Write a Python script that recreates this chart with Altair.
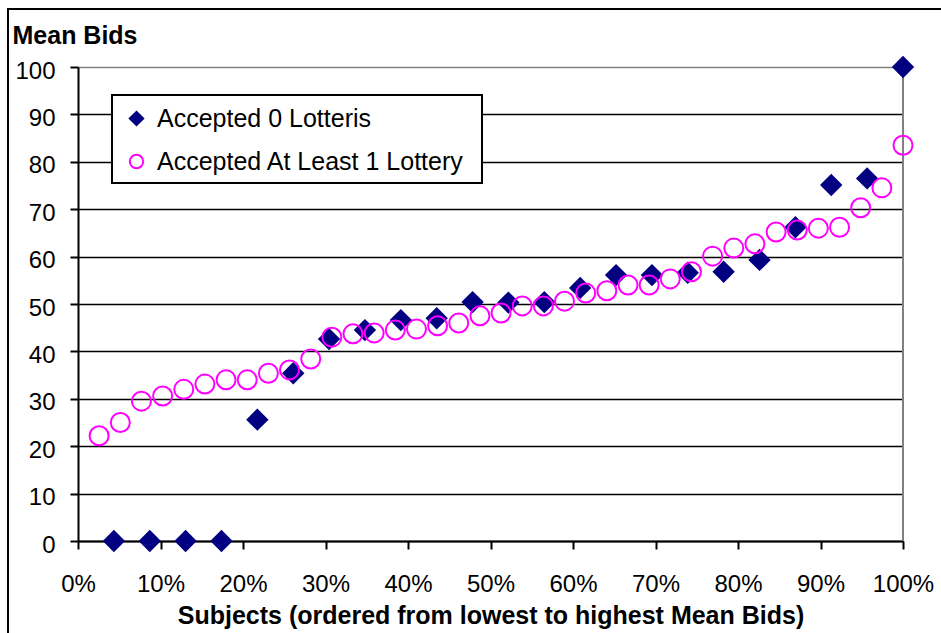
import altair as alt
import pandas as pd

SERIES = ["Accepted 0 Lotteris", "Accepted At Least 1 Lottery"]

# Subjects ranked (percent position) and mean bids
zero_x = [4.35, 8.70, 13.04, 17.39, 21.74, 26.09, 30.43, 34.78, 39.13, 43.48, 47.83, 52.17,
          56.52, 60.87, 65.22, 69.57, 73.91, 78.26, 82.61, 86.96, 91.30, 95.65, 100.0]
zero_y = [0, 0, 0, 0, 25.6, 35.4, 42.6, 44.5, 46.6, 47.0, 50.4, 50.3,
          50.4, 53.4, 56.1, 56.1, 56.6, 56.8, 59.3, 66.2, 75.1, 76.5, 100.0]

one_x = [2.56, 5.13, 7.69, 10.26, 12.82, 15.38, 17.95, 20.51, 23.08, 25.64, 28.21, 30.77, 33.33,
         35.90, 38.46, 41.03, 43.59, 46.15, 48.72, 51.28, 53.85, 56.41, 58.97, 61.54, 64.10, 66.67,
         69.23, 71.79, 74.36, 76.92, 79.49, 82.05, 84.62, 87.18, 89.74, 92.31, 94.87, 97.44, 100.0]
one_y = [22.2, 25.0, 29.5, 30.6, 32.0, 33.1, 34.0, 34.0, 35.4, 36.1, 38.4, 43.0, 43.7,
         43.9, 44.5, 44.7, 45.4, 46.0, 47.5, 48.1, 49.6, 49.6, 50.6, 52.3, 52.8, 54.0,
         54.0, 55.3, 56.8, 60.1, 61.8, 62.7, 65.2, 65.6, 66.0, 66.2, 70.3, 74.5, 83.5]

x_ticks = [0, 10, 20, 30, 40, 50, 60, 70, 80, 90, 100]
y_ticks = [0, 10, 20, 30, 40, 50, 60, 70, 80, 90, 100]

df = pd.DataFrame({
    "pct": zero_x + one_x,
    "bid": zero_y + one_y,
    "series": [SERIES[0]] * len(zero_x) + [SERIES[1]] * len(one_x),
})
one = pd.DataFrame({"k": [0]})

W, H = 825, 474
FONT = "Liberation Sans"

x_enc = alt.X(
    "pct:Q",
    scale=alt.Scale(domain=[0, 100], nice=False, zero=False),
    axis=alt.Axis(
        values=x_ticks, labelExpr="datum.value + '%'",
        title="Subjects (ordered from lowest to highest Mean Bids)",
        grid=False, tickSize=8, tickWidth=2, tickColor="black",
        domainColor="black", domainWidth=2,
        labelFontSize=24, labelColor="black", labelBaseline="alphabetic", labelPadding=42,
        labelFont=FONT, labelFlush=False, labelOverlap=False,
        titleFont=FONT, titleFontSize=25, titleFontWeight="bold", titleColor="black",
        titleBaseline="alphabetic", titleY=82,
    ),
)
y_enc = alt.Y(
    "bid:Q",
    scale=alt.Scale(domain=[0, 100], nice=False),
    axis=alt.Axis(
        values=y_ticks, title="Mean Bids",
        titleAngle=0, titleAlign="left", titleBaseline="alphabetic", titleX=-66, titleY=-24,
        titleFont=FONT, titleFontSize=25, titleFontWeight="bold", titleColor="black",
        labelFont=FONT, labelFontSize=24, labelColor="black", labelPadding=15,
        labelBaseline="alphabetic", labelOffset=11, labelFlush=False, labelOverlap=False,
        tickSize=8, tickWidth=2, tickColor="black",
        domainColor="black", domainWidth=2,
        grid=True, gridWidth=1.5,
        gridColor={"condition": {"test": "datum.value === 100", "value": "#808080"}, "value": "black"},
    ),
)

leg = alt.Legend(
    title=None, orient="none", legendX=46, legendY=39,
    labelFont=FONT, labelFontSize=25, labelColor="black", labelOffset=8, labelLimit=500,
    symbolSize=180, symbolStrokeWidth=2, rowPadding=17, padding=0,
)

points = alt.Chart(df).mark_point(opacity=1).encode(
    x=x_enc,
    y=y_enc,
    shape=alt.Shape("series:N", scale=alt.Scale(domain=SERIES, range=["diamond", "circle"]), legend=leg),
    fill=alt.Fill("series:N", scale=alt.Scale(domain=SERIES, range=["#000080", "transparent"]), legend=leg),
    stroke=alt.Stroke("series:N", scale=alt.Scale(domain=SERIES, range=["#000080", "#FF00FF"]), legend=leg),
    size=alt.condition(alt.datum.series == SERIES[0], alt.value(500), alt.value(361)),
    strokeWidth=alt.condition(alt.datum.series == SERIES[0], alt.value(0), alt.value(2)),
)

frame = alt.Chart(one).mark_rect(fill="transparent", stroke="black", strokeWidth=2).encode(
    x=alt.value(-70), y=alt.value(-58), x2=alt.value(W + 80), y2=alt.value(H + 120)
)
legend_box = alt.Chart(one).mark_rect(fill="white", stroke="black", strokeWidth=2).encode(
    x=alt.value(34), y=alt.value(28), x2=alt.value(404), y2=alt.value(116)
)
right_border = alt.Chart(one).mark_rule(stroke="#808080", strokeWidth=2).encode(
    x=alt.value(W), y=alt.value(0), y2=alt.value(H)
)

chart = alt.layer(frame, right_border, legend_box, points).properties(
    width=W, height=H,
    autosize=alt.AutoSizeParams(type="none"),
    padding={"left": 78, "top": 67, "right": 38, "bottom": 92},
    background="white",
).configure_view(stroke="transparent").configure(font=FONT)

chart.save("out.html", embed_options={"renderer": "svg", "actions": False})
